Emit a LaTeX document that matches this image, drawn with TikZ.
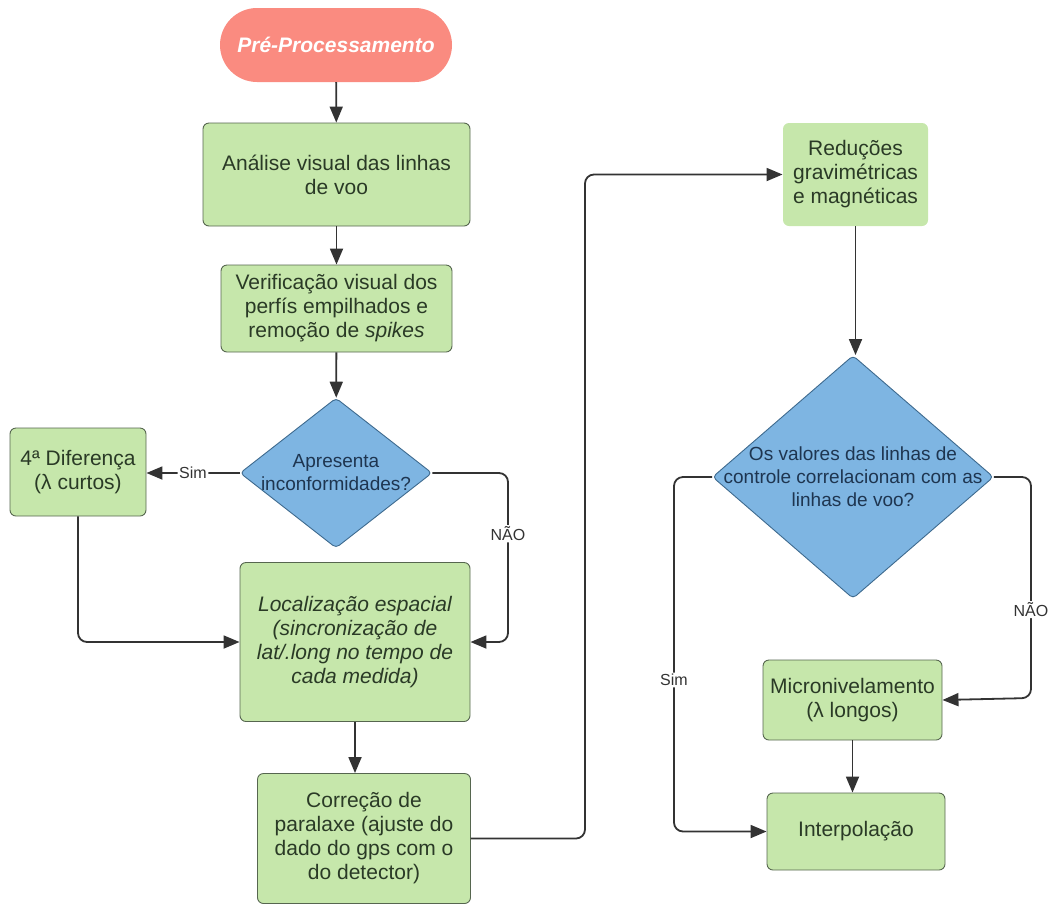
\documentclass[tikz,border=0pt]{standalone}
\usepackage{fontspec}
\setmainfont{Liberation Sans}
\usetikzlibrary{shapes.geometric,arrows.meta}
\definecolor{salmon}{HTML}{FA8B80}
\definecolor{boxgreen}{HTML}{C6E7AB}
\definecolor{boxline}{HTML}{56664F}
\definecolor{textgreen}{HTML}{2A3A26}
\definecolor{decblue}{HTML}{7EB5E2}
\definecolor{decline}{HTML}{3E6A8E}
\definecolor{textblue}{HTML}{1E3550}
\definecolor{lineg}{HTML}{333333}

\begin{document}
\begin{tikzpicture}[x=1pt,y=-1pt]
\tikzstyle{every node}=[font=\fontsize{21}{24}\selectfont]
\tikzstyle{startbox}=[rectangle,rounded corners=37pt,fill=salmon,text=white,minimum width=232pt,minimum height=74pt,font=\fontsize{21}{24}\selectfont\bfseries\itshape]
\tikzstyle{procbox}=[rectangle,rounded corners=6pt,draw=boxline,line width=0.9pt,fill=boxgreen,text=textgreen,align=center,inner sep=0pt]
\tikzstyle{decision}=[diamond,rounded corners=4pt,draw=decline,line width=0.9pt,fill=decblue,inner sep=0pt]
\tikzstyle{dtext}=[text=textblue,align=center,font=\fontsize{19}{23}\selectfont]
\tikzstyle{flow}=[draw=lineg,line width=1.8pt,rounded corners=9pt,-{Triangle[length=16pt,width=13pt]}]
\tikzstyle{cond}=[fill=white,text=lineg,inner sep=1.5pt,font=\fontsize{16}{18}\selectfont]
\useasboundingbox (0,0) rectangle (1051,906);

% left column
\node (start) [startbox] at (336,45) {Pré-Processamento};
\node (ana) [procbox,minimum width=267pt,minimum height=103pt] at (336.5,174.5) {Análise visual das linhas\\de voo};
\node (verif) [procbox,minimum width=231pt,minimum height=87pt] at (336.5,308.5) {Verificação visual dos\\perfís empilhados e\\remoção de \textit{spikes}};
\node (quest) [decision,minimum width=192pt,minimum height=150pt] at (336,473) {};
\node (questtxt) [dtext] at (quest) {Apresenta\\inconformidades?};
\node (dif) [procbox,minimum width=136pt,minimum height=88pt] at (78,472) {4ª Diferença\\(λ curtos)};
\node (loc) [procbox,minimum width=230pt,minimum height=159pt,font=\fontsize{21}{24}\selectfont\itshape] at (355,642) {Localização espacial\\(sincronização de\\lat/.long no tempo de\\cada medida)};
\node (cor) [procbox,minimum width=213pt,minimum height=130pt] at (364,838.5) {Correção de\\paralaxe (ajuste do\\dado do gps com o\\do detector)};

% right column
\node (red) [procbox,draw=none,minimum width=145pt,minimum height=103pt] at (855.5,174.5) {Reduções\\gravimétricas\\e magnéticas};
\node (qual) [decision,minimum width=281pt,minimum height=243pt] at (853,477) {};
\node (qualtxt) [dtext] at (qual) {Os valores das linhas de\\controle correlacionam com as\\linhas de voo?};
\node (micro) [procbox,minimum width=179pt,minimum height=80pt] at (852.5,700) {Micronivelamento\\(λ longos)};
\node (interp) [procbox,minimum width=178pt,minimum height=77pt] at (856,831.5) {Interpolação};

\coordinate (nao1) at (508,642);
\coordinate (bus) at (585,500);
\coordinate (sim2) at (674,680);
\coordinate (nao2) at (1031,698);

\draw[flow] (start) -- (ana);
\draw[flow] (ana) -- (verif);
\draw[flow] (verif) -- (quest);
\draw[flow] (quest.west) -- node[cond]{Sim} (quest.west -| dif.east);
\draw[flow] (quest.east) -| node[cond,pos=0.68]{NÃO} (nao1) -- (loc.east);
\draw[flow] (dif.south) |- (loc.west);
\draw[flow] (loc.south) -- (loc.south |- cor.north);
\draw[flow] (cor.east) -| (bus) |- (red.west);
\draw[flow] (red.south) -- (red.south |- qual.north);
\draw[flow] (qual.west) -| (sim2) node[cond]{Sim} |- (interp.west);
\draw[flow] (qual.east) -| node[cond,pos=0.8]{NÃO} (nao2) -- (micro.east);
\draw[flow] (micro.south) -- (micro.south |- interp.north);
\end{tikzpicture}
\end{document}
